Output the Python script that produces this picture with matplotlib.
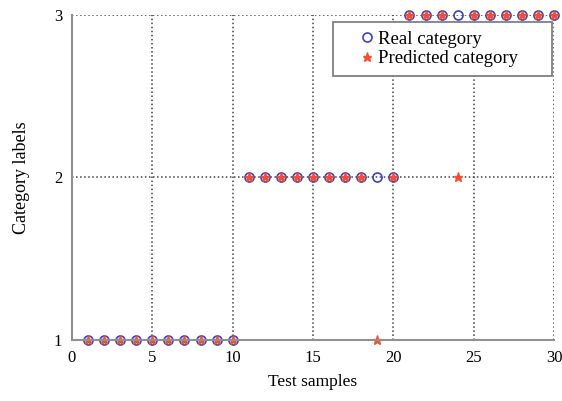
import matplotlib.pyplot as plt
import numpy as np

# amostras de teste e categorias
amostras = list(range(1, 31))
real = [1]*10 + [2]*10 + [3]*10
previsto = [1]*10 + [2]*8 + [1, 2] + [3]*3 + [2] + [3]*6

plt.rcParams['font.family'] = ['Liberation Serif', 'DejaVu Serif']

fig = plt.figure(figsize=(5.62, 4.01), dpi=100)
ax = fig.add_axes([0.128, 0.152, 0.858, 0.811])

ax.plot(amostras, real, 'o', color='#4040c0', mfc='none', ms=6.5, mew=1.2,
        label='Real category', clip_on=False)
ax.plot(amostras, previsto, '*', color='#f05030', ms=6.5, label='Predicted category',
        clip_on=False)

ax.set_xlim(0, 30)
ax.set_ylim(1, 3)
ax.set_xticks([0, 5, 10, 15, 20, 25, 30])
ax.set_yticks([1, 2, 3])
ax.grid(True, linestyle=':', color='#404040', linewidth=1.1)
ax.set_axisbelow(True)

for s in ['top', 'right']:
    ax.spines[s].set_visible(False)
for s in ['left', 'bottom']:
    ax.spines[s].set_color('#909090')
    ax.spines[s].set_linewidth(1.5)
ax.tick_params(length=0, labelsize=12, pad=7)

ax.set_xlabel('Test samples', fontsize=12.5, labelpad=6)
ax.set_ylabel('Category labels', fontsize=13, labelpad=17)

leg = ax.legend(loc='upper left', bbox_to_anchor=(0.541, 0.978, 0.454, 0.0),
                mode='expand', fontsize=13.5,
                fancybox=False, framealpha=1, edgecolor='#808080',
                handletextpad=-0.85, handlelength=2.8, borderaxespad=0.0,
                labelspacing=0.15, borderpad=0.45)
leg.get_frame().set_linewidth(1.3)

fig.savefig('out.png', dpi=100)
